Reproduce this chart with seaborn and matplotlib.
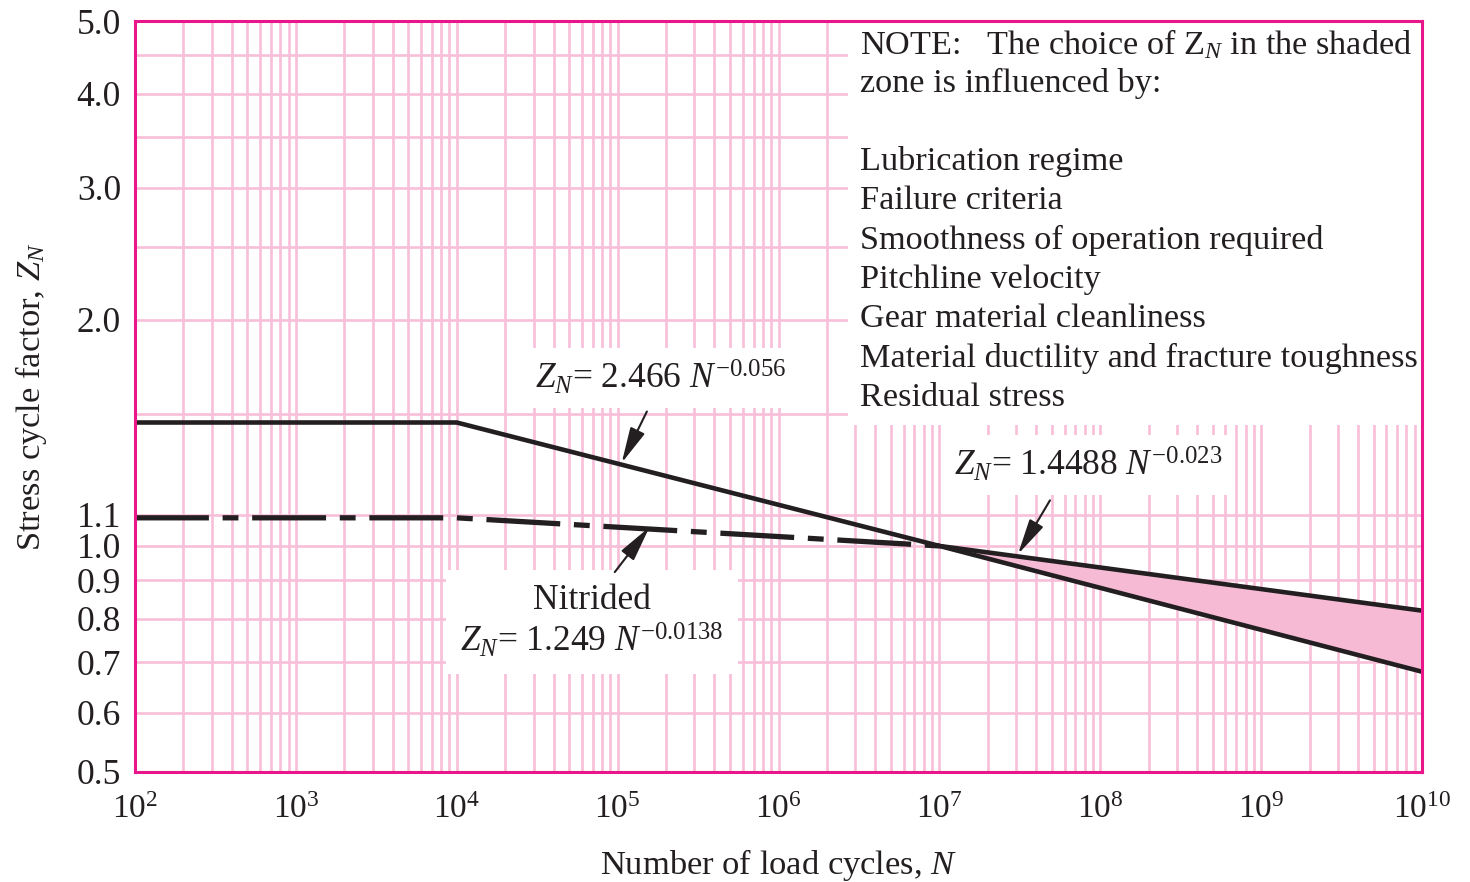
import matplotlib
matplotlib.use('Agg')
import matplotlib.pyplot as plt
import matplotlib.ticker as mticker
from matplotlib.patches import Rectangle
import seaborn as sns
import numpy as np

# data
steel_N = [1e2, 1e4, 1e7, 1e10]
steel_Z = [1.46, 1.46, 1.0, 0.68]
band_N = [1e7, 1e10]
band_Z = [1.0, 0.82]
nitr_N = [1e2, 1e4, 1e7]
nitr_Z = [1.09, 1.09, 1.0]

x_exps = [2, 3, 4, 5, 6, 7, 8, 9, 10]
y_major = [0.5, 0.6, 0.7, 0.8, 0.9, 1.0, 1.1, 2.0, 3.0, 4.0, 5.0]
y_minor = [1.5, 2.5, 3.5, 4.5]

note_lines = [
    r'NOTE:   The choice of Z$_{N}$ in the shaded',
    'zone is influenced by:',
    '',
    'Lubrication regime',
    'Failure criteria',
    'Smoothness of operation required',
    'Pitchline velocity',
    'Gear material cleanliness',
    'Material ductility and fracture toughness',
    'Residual stress',
]

sns.set_style('white')
plt.rcParams['font.family'] = ['Liberation Serif', 'DejaVu Serif']
plt.rcParams['mathtext.fontset'] = 'custom'
plt.rcParams['mathtext.rm'] = 'Liberation Serif'
plt.rcParams['mathtext.it'] = 'Liberation Serif:italic'
plt.rcParams['mathtext.bf'] = 'Liberation Serif:bold'

pink = '#F8BFD9'
magenta = '#E8168A'
dark = '#231F20'

fig = plt.figure(figsize=(14.7, 8.82), dpi=100)
ax = fig.add_axes([135/1470, 1 - 772/882, 1287/1470, 751/882])
ax.set_xscale('log')
ax.set_yscale('log')
ax.set_xlim(10.0**x_exps[0], 10.0**x_exps[-1])
ax.set_ylim(y_major[0], y_major[-1])

# grid
ax.xaxis.set_major_locator(mticker.FixedLocator([10.0**e for e in x_exps]))
ax.xaxis.set_minor_locator(mticker.LogLocator(base=10, subs=np.arange(2, 10), numticks=20))
ax.xaxis.set_major_formatter(mticker.FixedFormatter([f'$10^{{{e}}}$' for e in x_exps]))
ax.xaxis.set_minor_formatter(mticker.NullFormatter())
ax.yaxis.set_major_locator(mticker.FixedLocator(y_major))
ax.yaxis.set_major_formatter(mticker.FixedFormatter([f'{v:.1f}' for v in y_major]))
ax.yaxis.set_minor_locator(mticker.FixedLocator(y_minor))
ax.yaxis.set_minor_formatter(mticker.NullFormatter())
ax.grid(True, which='both', color=pink, lw=1.9)
ax.set_axisbelow(True)
ax.tick_params(which='both', length=0, colors=dark)
ax.tick_params(axis='x', pad=16, labelsize=24)
ax.tick_params(axis='y', pad=10, labelsize=25.5)
for s in ax.spines.values():
    s.set_color(magenta)
    s.set_linewidth(2.2)
    s.set_zorder(6)

# shaded zone
ax.fill_between(band_N, [steel_Z[2], steel_Z[3]], band_Z, color='#F6BAD5', lw=0, zorder=3)
ax.vlines(band_N[-1], steel_Z[-1], band_Z[-1], color=dark, lw=2, zorder=4)

sns.lineplot(x=steel_N, y=steel_Z, ax=ax, color=dark, lw=3.3, sort=False, estimator=None, zorder=5)
sns.lineplot(x=band_N, y=band_Z, ax=ax, color=dark, lw=3.3, sort=False, estimator=None, zorder=5)
sns.lineplot(x=nitr_N, y=nitr_Z, ax=ax, color=dark, lw=3.8, sort=False, estimator=None, zorder=5)
ax.lines[-1].set_linestyle((0, (14, 2.6, 3.0, 2.6)))

# note box
ax.add_patch(Rectangle((0.554, 0.462), 0.446, 0.538, transform=ax.transAxes,
                       fc='white', ec='none', zorder=2))
for i, line in enumerate(note_lines):
    ypx = 44 + 39.3 * i
    ax.text(0.5633, (772 - ypx) / 751, line, transform=ax.transAxes, fontsize=24.7,
            va='center', ha='left', color=dark, zorder=3)

box = dict(fc='white', ec='none', pad=8)
ax.text((661 - 135) / 1287, (772 - 378) / 751, r'$Z_N$= 2.466 $N^{-0.056}$',
        transform=ax.transAxes, fontsize=25.5, ha='center', va='center', color=dark,
        bbox=box, zorder=3)
ax.text((1088 - 135) / 1287, (772 - 465) / 751, r'$Z_N$= 1.4488 $N^{-0.023}$',
        transform=ax.transAxes, fontsize=25.5, ha='center', va='center', color=dark,
        bbox=box, zorder=3)
ax.text((592 - 135) / 1287, (772 - 622) / 751, 'Nitrided\n' + r'$Z_N$= 1.249 $N^{-0.0138}$',
        transform=ax.transAxes, fontsize=25.5, ha='center', va='center', color=dark,
        linespacing=1.15, bbox=dict(fc='white', ec='none', pad=10), zorder=3)

arrow = dict(arrowstyle='-|>,head_length=1.0,head_width=0.22', color=dark, lw=1.5,
             mutation_scale=22, shrinkA=0, shrinkB=0)
ax.annotate('', xy=(1.06e5, 1.29), xytext=(1.52e5, 1.51), arrowprops=arrow, zorder=5)
ax.annotate('', xy=(3.08e7, 0.975), xytext=(4.87e7, 1.15), arrowprops=arrow, zorder=5)
ax.annotate('', xy=(1.58e5, 1.06), xytext=(9.6e4, 0.923), arrowprops=arrow, zorder=5)

ax.set_xlabel('Number of load cycles, $N$', fontsize=24.8, color=dark, labelpad=16)
ax.set_ylabel('Stress cycle factor, $Z_N$', fontsize=24.8, color=dark, labelpad=20)

fig.savefig('out.png', dpi=100, facecolor='white')
